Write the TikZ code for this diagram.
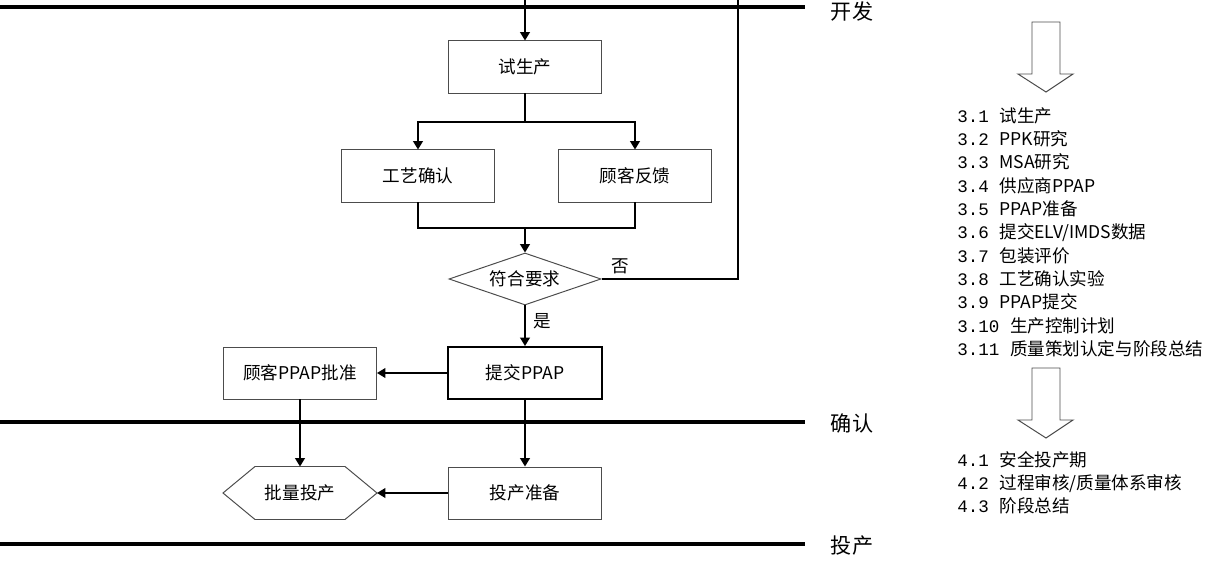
\documentclass[tikz,border=0pt]{standalone}
\usepackage{fontspec}
\setmainfont{Noto Sans CJK SC}
\newfontfamily\halfwidth{Liberation Mono}
\newcommand\stepno[1]{{\halfwidth #1}}
\usetikzlibrary{arrows.meta,shapes.geometric}

\def\xm{525}
\def\xl{300}
\def\xr{635}
\def\xp{418}
\def\xback{738}
\def\xend{805}
\def\xname{852}

\tikzset{
    stepbox/.style={draw=black!70,line width=0.7pt,minimum width=3.825cm,minimum height=1.3cm,inner sep=0pt,font=\fontsize{12.5pt}{15pt}\selectfont},
    keybox/.style={stepbox,draw=black,line width=1.4pt},
    checkbox/.style={diamond,draw=black!70,line width=0.7pt,aspect=2.9,minimum width=3.8cm,minimum height=1.3cm,inner sep=0pt,font=\fontsize{12.5pt}{15pt}\selectfont},
    flow/.style={line width=1.05pt,-{Triangle[length=6pt,width=7pt]}},
    link/.style={line width=1.05pt},
    answer/.style={font=\fontsize{12.5pt}{15pt}\selectfont},
    phase/.style={line width=2.8pt},
    phasename/.style={font=\fontsize{15pt}{18pt}\selectfont},
    bigarrow/.style={draw=black!70,line width=0.7pt},
    steplist/.style={align=left,inner sep=0pt,anchor=north west,font=\fontsize{12.5pt}{16.6pt}\selectfont}
}

\begin{document}
\begin{tikzpicture}[x=0.025cm,y=-0.025cm]
        \useasboundingbox (0,0) rectangle (1213,571);
        \draw[phase] (0,7) -- (\xend,7);
        \draw[phase] (0,422) -- (\xend,422);
        \draw[phase] (0,544) -- (\xend,544);
        \node[phasename] (dev) at (\xname,11) {开发};
        \node[phasename] (conf) at (\xname,423) {确认};
        \node[phasename] (prod) at (\xname,546) {投产};

        \node[stepbox] (trial) at (\xm,67) {试生产};
        \node[stepbox] (proc) at (\xp,176) {工艺确认};
        \node[stepbox] (fb) at (\xr,176) {顾客反馈};
        \node[checkbox] (check) at (\xm,279) {符合要求};
        \node[keybox] (submit) at (\xm,373) {提交PPAP};
        \node[stepbox] (appr) at (\xl,373) {顾客PPAP批准};
        \node[stepbox] (ready) at (\xm,493) {投产准备};
        \node[stepbox,draw=none] (mass) at (\xl,493) {批量投产};
        \draw[black!70,line width=0.7pt] (mass.west) -- ([xshift=0.8cm]mass.north west) -- ([xshift=-0.8cm]mass.north east) -- (mass.east) -- ([xshift=-0.8cm]mass.south east) -- ([xshift=0.8cm]mass.south west) -- cycle;

        \coordinate (entry) at (\xm,0);
        \coordinate (split) at (\xm,122);
        \coordinate (join) at (\xm,228);
        \coordinate (back) at (\xback,0);
        \draw[flow] (entry) -- (trial.north);
        \draw[link] (trial.south) -- (split);
        \draw[flow] (split) -| (proc.north);
        \draw[flow] (split) -| (fb.north);
        \draw[link] (proc.south) |- (join);
        \draw[link] (fb.south) |- (join);
        \draw[flow] (join) -- (check.north);
        \draw[link] (check.east) -| (back);
        \node[answer] (no) at (620,266) {否};
        \draw[flow] (check.south) -- (submit.north);
        \node[answer] (yes) at (542,321) {是};
        \draw[flow] (submit.west) -- (appr.east);
        \draw[flow] (appr.south) -- (mass.north);
        \draw[flow] (submit.south) -- (ready.north);
        \draw[flow] (ready.west) -- (mass.east);

        \draw[bigarrow] (1032,22) -- (1060,22) -- (1060,74) -- (1073,74) -- (1046,92) -- (1018,74) -- (1032,74) -- cycle;
        \node[steplist] (devsteps) at (957,107) {\stepno{3.1 }试生产\\\stepno{3.2 }PPK研究\\\stepno{3.3 }MSA研究\\\stepno{3.4 }供应商PPAP\\\stepno{3.5 }PPAP准备\\\stepno{3.6 }提交ELV/IMDS数据\\\stepno{3.7 }包装评价\\\stepno{3.8 }工艺确认实验\\\stepno{3.9 }PPAP提交\\\stepno{3.10 }生产控制计划\\\stepno{3.11 }质量策划认定与阶段总结};
        \draw[bigarrow] (1032,368) -- (1060,368) -- (1060,420) -- (1073,420) -- (1046,438) -- (1018,420) -- (1032,420) -- cycle;
        \node[steplist] (prodsteps) at (957,451) {\stepno{4.1 }安全投产期\\\stepno{4.2 }过程审核/质量体系审核\\\stepno{4.3 }阶段总结};
\end{tikzpicture}
\end{document}
